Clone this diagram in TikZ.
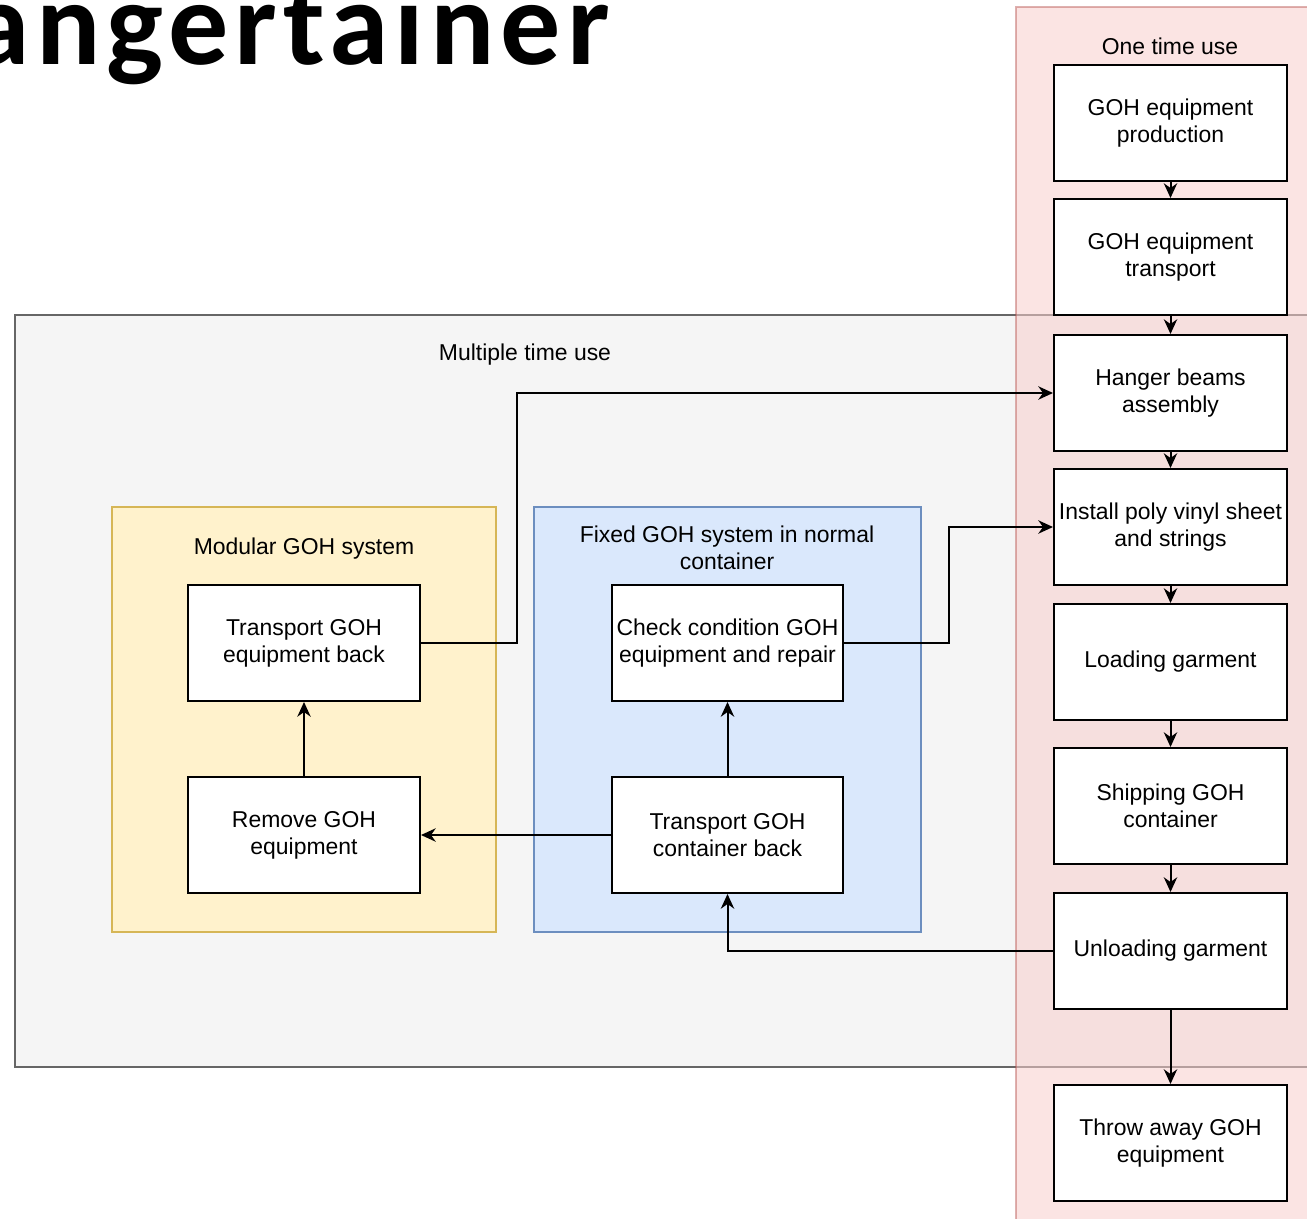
\documentclass[tikz,border=0pt]{standalone}
\usepackage{fontspec}
\setmainfont{Liberation Sans}
\newfontfamily\titlefont{Carlito}[UprightFont=* Bold, LetterSpace=5]
\usetikzlibrary{arrows.meta}
\definecolor{grayfill}{HTML}{F5F5F5}
\definecolor{graydraw}{HTML}{666666}
\definecolor{pinkfill}{HTML}{F8CECC}
\definecolor{pinkdraw}{HTML}{B85450}
\definecolor{yelfill}{HTML}{FFF2CC}
\definecolor{yeldraw}{HTML}{D6B656}
\definecolor{bluefill}{HTML}{DAE8FC}
\definecolor{bluedraw}{HTML}{6C8EBF}
\newcommand{\boxfont}{\fontsize{17.2}{20.4}\selectfont}
\tikzset{
  proc/.style={draw=black, line width=1.5pt, fill=white, minimum width=174.75pt,
    minimum height=87pt, align=center, inner sep=0pt, font=\boxfont},
  lbl/.style={align=center, inner sep=0pt, font=\boxfont},
  arr/.style={line width=1.5pt, -{Stealth[length=11pt, width=10pt, inset=3.5pt]}},
}
\begin{document}
\begin{tikzpicture}[x=0.75pt, y=-0.75pt]
\useasboundingbox (0,0) rectangle (1307,1218);
\clip (0,0) rectangle (1307,1218);
\fill[white] (0,0) rectangle (1307,1218);
% title
\node[anchor=base east, inner sep=0pt, font=\titlefont\fontsize{90}{90}\selectfont] (title) at (610,64) {Hangertainer};
% panels
\draw[fill=grayfill, draw=graydraw, line width=1.2pt] (15,315) rectangle (1330,1067);
\node[lbl] (multi) at (525,355) {Multiple time use};
\draw[fill=pinkfill, fill opacity=0.55, draw=pinkdraw, draw opacity=0.45, line width=1.2pt] (1016,7) rectangle (1330,1240);
\node[lbl] (one) at (1170,46) {One time use};
\draw[fill=yelfill, draw=yeldraw, line width=1.2pt] (112,507) rectangle (496,932);
\node[lbl] (modlbl) at (304,549) {Modular GOH system};
\draw[fill=bluefill, draw=bluedraw, line width=1.2pt] (534,507) rectangle (921,932);
\node[lbl] (fixlbl) at (727,548) {Fixed GOH system in normal\\container};
% right column
\node[proc] (b1) at (1170.5,123) {GOH equipment\\production};
\node[proc] (b2) at (1170.5,257) {GOH equipment\\transport};
\node[proc] (b3) at (1170.5,393) {Hanger beams\\assembly};
\node[proc] (b4) at (1170.5,527) {Install poly vinyl sheet\\and strings};
\node[proc] (b5) at (1170.5,662) {Loading garment};
\node[proc] (b6) at (1170.5,806) {Shipping GOH\\container};
\node[proc] (b7) at (1170.5,951) {Unloading garment};
\node[proc] (b8) at (1170.5,1143) {Throw away GOH\\equipment};
% inner boxes
\node[proc, minimum width=174pt] (tb) at (304,643) {Transport GOH\\equipment back};
\node[proc, minimum width=174pt] (rm) at (304,835) {Remove GOH\\equipment};
\node[proc, minimum width=173.25pt] (cc) at (727.5,643) {Check condition GOH\\equipment and repair};
\node[proc, minimum width=173.25pt] (tc) at (727.5,835) {Transport GOH\\container back};
% connectors
\draw[arr] (b1) -- (b2);
\draw[arr] (b2) -- (b3);
\draw[arr] (b3) -- (b4);
\draw[arr] (b4) -- (b5);
\draw[arr] (b5) -- (b6);
\draw[arr] (b6) -- (b7);
\draw[arr] (b7) -- (b8);
\draw[arr] (tb.east) -- ++(96,0) |- (b3.west);
\draw[arr] (cc.east) -- ++(105,0) |- (b4.west);
\draw[arr] (b7.west) -| (tc.south);
\draw[arr] (tc.west) -- (rm.east);
\draw[arr] (rm.north) -- (tb.south);
\draw[arr] (tc.north) -- (cc.south);
\end{tikzpicture}
\end{document}
